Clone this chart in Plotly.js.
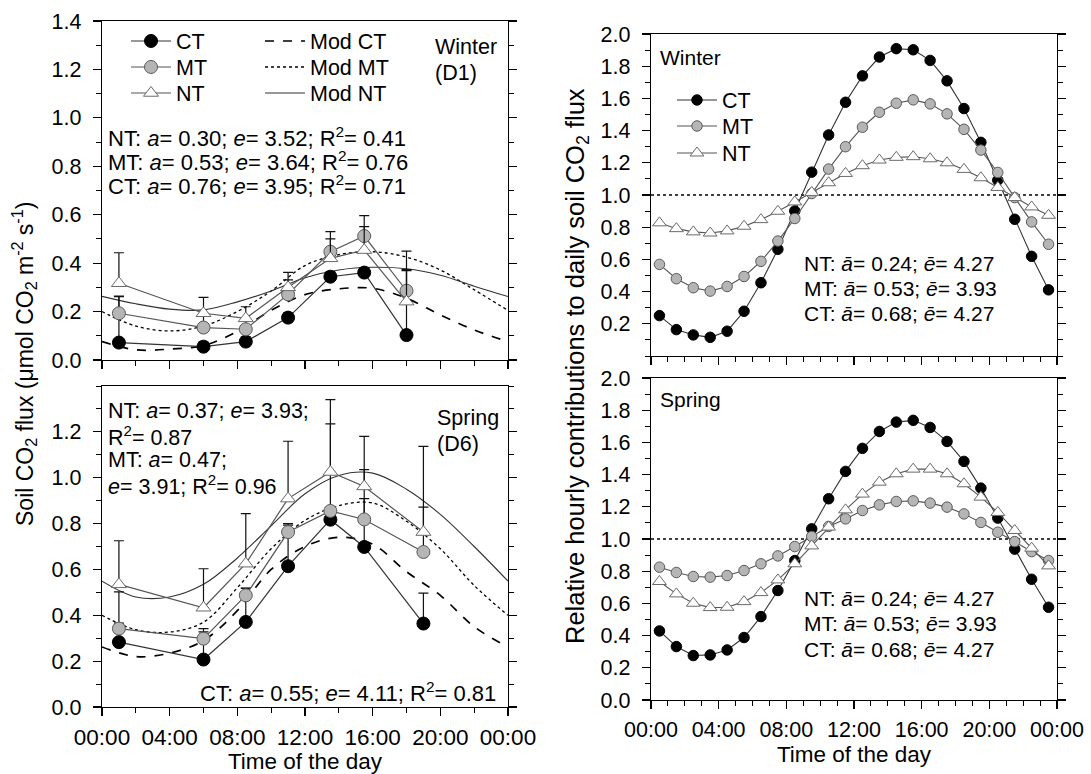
<!DOCTYPE html>
<html>
<head>
<meta charset="utf-8">
<script src="https://cdn.plot.ly/plotly-3.0.1.min.js"></script>
<style>html,body{margin:0;padding:0;background:#fff;}#chart{width:1091px;height:774px;}</style>
</head>
<body>
<div id="chart"></div>
<script>
// ---------- DATA ----------
const tickHours = [0, 4, 8, 12, 16, 20, 24];
const tickLabels = ["00:00", "04:00", "08:00", "12:00", "16:00", "20:00", "00:00"];
const leftTickVals = [0, 0.2, 0.4, 0.6, 0.8, 1.0, 1.2, 1.4];
const leftTickVals2 = [0, 0.2, 0.4, 0.6, 0.8, 1.0, 1.2];
const rightTickVals = [0.2, 0.4, 0.6, 0.8, 1.0, 1.2, 1.4, 1.6, 1.8, 2.0];
const rightTickVals2 = [0, 0.2, 0.4, 0.6, 0.8, 1.0, 1.2, 1.4, 1.6, 1.8, 2.0];

// field measurements (left panels)
const winterHours = [1, 6, 8.5, 11, 13.5, 15.5, 18];
const winterCT = [0.072, 0.055, 0.076, 0.175, 0.344, 0.361, 0.103];
const winterMT = [0.193, 0.134, 0.127, 0.271, 0.447, 0.512, 0.286];
const winterNT = [0.317, 0.193, 0.172, 0.300, 0.420, 0.454, 0.241];
const winterCTErr = [0.19, 0.02, 0.02, 0.02, 0.02, 0.02, 0.27];
const winterMTErr = [0.071, 0.05, 0.04, 0.06, 0.083, 0.084, 0.164];
const winterNTErr = [0.126, 0.066, 0.048, 0.062, 0.08, 0.097, 0.128];

const springHours = [1, 6, 8.5, 11, 13.5, 15.5, 19];
const springCT = [0.283, 0.207, 0.371, 0.614, 0.817, 0.698, 0.364];
const springMT = [0.342, 0.298, 0.487, 0.763, 0.855, 0.818, 0.676];
const springNT = [0.535, 0.433, 0.625, 0.909, 1.025, 0.962, 0.763];
const springCTErr = [0.083, 0.135, 0.148, 0.186, 0.02, 0.211, 0.133];
const springMTErr = [0.16, 0.03, 0.03, 0.03, 0.38, 0.217, 0.196];
const springNTErr = [0.19, 0.17, 0.218, 0.25, 0.316, 0.218, 0.374];

// model curves (left panels)
const modelHours = [0, 2, 4, 6, 8, 10, 12, 14, 16, 18, 20, 22, 24];
const winterModCT = [0.076, 0.042, 0.045, 0.060, 0.118, 0.205, 0.270, 0.294, 0.296, 0.255, 0.186, 0.124, 0.076];
const winterModMT = [0.200, 0.140, 0.120, 0.140, 0.200, 0.285, 0.390, 0.435, 0.447, 0.425, 0.372, 0.290, 0.205];
const winterModNT = [0.263, 0.232, 0.210, 0.207, 0.240, 0.285, 0.340, 0.372, 0.383, 0.377, 0.350, 0.305, 0.262];
const springModCT = [0.262, 0.220, 0.235, 0.290, 0.420, 0.600, 0.700, 0.740, 0.710, 0.590, 0.487, 0.350, 0.262];
const springModMT = [0.400, 0.337, 0.327, 0.370, 0.520, 0.690, 0.814, 0.878, 0.890, 0.810, 0.690, 0.530, 0.400];
const springModNT = [0.549, 0.480, 0.480, 0.535, 0.650, 0.790, 0.930, 1.010, 1.020, 0.950, 0.840, 0.700, 0.549];

// relative hourly contributions (right panels)
const hourMid = [0.5, 1.5, 2.5, 3.5, 4.5, 5.5, 6.5, 7.5, 8.5, 9.5, 10.5, 11.5,
                 12.5, 13.5, 14.5, 15.5, 16.5, 17.5, 18.5, 19.5, 20.5, 21.5, 22.5, 23.5];
const relWinterCT = [0.251, 0.164, 0.131, 0.116, 0.154, 0.278, 0.455, 0.663, 0.901, 1.142, 1.373, 1.576,
                     1.740, 1.857, 1.909, 1.902, 1.836, 1.709, 1.537, 1.327, 1.092, 0.849, 0.619, 0.411];
const relWinterMT = [0.569, 0.480, 0.424, 0.403, 0.432, 0.494, 0.588, 0.714, 0.854, 1.009, 1.161, 1.300,
                     1.421, 1.514, 1.570, 1.591, 1.566, 1.504, 1.408, 1.279, 1.140, 0.984, 0.833, 0.694];
const relWinterNT = [0.827, 0.791, 0.771, 0.764, 0.777, 0.806, 0.847, 0.899, 0.957, 1.016, 1.076, 1.134,
                     1.182, 1.217, 1.234, 1.238, 1.225, 1.200, 1.159, 1.107, 1.047, 0.984, 0.926, 0.874];
const relSpringCT = [0.429, 0.332, 0.276, 0.280, 0.311, 0.388, 0.518, 0.680, 0.866, 1.063, 1.250, 1.420,
                     1.563, 1.668, 1.726, 1.737, 1.693, 1.606, 1.482, 1.316, 1.130, 0.937, 0.750, 0.576];
const relSpringMT = [0.825, 0.792, 0.767, 0.763, 0.773, 0.804, 0.846, 0.895, 0.953, 1.016, 1.078, 1.125,
                     1.177, 1.212, 1.233, 1.237, 1.223, 1.198, 1.156, 1.103, 1.042, 0.984, 0.922, 0.866];
const relSpringNT = [0.736, 0.659, 0.601, 0.574, 0.576, 0.611, 0.667, 0.746, 0.846, 0.957, 1.074, 1.181,
                     1.279, 1.353, 1.405, 1.434, 1.434, 1.405, 1.343, 1.260, 1.165, 1.053, 0.943, 0.833];
const referenceLevel = 1.0;

// ---------- STYLE ----------
const FONT = 'Liberation Sans, Arial, sans-serif';
const W = 1091, H = 774;
const px = v => v / W;
const py = v => 1 - v / H;

const styles = {
  CT: {symbol: 'circle', color: '#000000', line: {color: '#000000', width: 1}},
  MT: {symbol: 'circle', color: '#b5b5b5', line: {color: '#5a5a5a', width: 1}},
  NT: {symbol: 'triangle-up', color: '#ffffff', line: {color: '#6a6a6a', width: 1}}
};
const connColor = {CT: '#333333', MT: '#555555', NT: '#555555'};

function fieldTrace(name, x, y, err, xa, ya, leg) {
  const s = styles[name];
  return {
    type: 'scatter', mode: 'lines+markers', name: name, x: x, y: y,
    xaxis: xa, yaxis: ya, legend: leg || 'legend', showlegend: !!leg,
    line: {color: connColor[name], width: 1.2},
    marker: {symbol: s.symbol, color: s.color, size: 13, line: s.line},
    error_y: {type: 'data', symmetric: false, array: err, arrayminus: err.map(() => 0),
              color: '#111', thickness: 1.2, width: 5},
    cliponaxis: false
  };
}
function modelTrace(name, y, xa, ya, dash, width, color, leg) {
  return {
    type: 'scatter', mode: 'lines', name: name, x: modelHours, y: y,
    xaxis: xa, yaxis: ya, legend: leg || 'legend', showlegend: !!leg,
    line: {color: color, width: width, dash: dash, shape: 'spline', smoothing: 1}
  };
}
function relTrace(name, y, xa, ya, leg) {
  const s = styles[name];
  return {
    type: 'scatter', mode: 'lines+markers', name: name, x: hourMid, y: y,
    xaxis: xa, yaxis: ya, legend: leg || 'legend', showlegend: !!leg,
    line: {color: connColor[name], width: 1.1},
    marker: {symbol: s.symbol, color: s.color, size: name === 'NT' ? 12 : 10.5, line: s.line},
    cliponaxis: false
  };
}

const data = [
  modelTrace('Mod CT', winterModCT, 'x', 'y', 'dash', 1.7, '#000', 'legend4'),
  modelTrace('Mod MT', winterModMT, 'x', 'y', 'dot', 1.3, '#000', 'legend5'),
  modelTrace('Mod NT', winterModNT, 'x', 'y', 'solid', 1.1, '#333', 'legend6'),
  fieldTrace('CT', winterHours, winterCT, winterCTErr, 'x', 'y', 'legend'),
  fieldTrace('MT', winterHours, winterMT, winterMTErr, 'x', 'y', 'legend2'),
  fieldTrace('NT', winterHours, winterNT, winterNTErr, 'x', 'y', 'legend3'),

  modelTrace('Mod CT', springModCT, 'x2', 'y2', 'dash', 1.7, '#000'),
  modelTrace('Mod MT', springModMT, 'x2', 'y2', 'dot', 1.3, '#000'),
  modelTrace('Mod NT', springModNT, 'x2', 'y2', 'solid', 1.1, '#333'),
  fieldTrace('CT', springHours, springCT, springCTErr, 'x2', 'y2'),
  fieldTrace('MT', springHours, springMT, springMTErr, 'x2', 'y2'),
  fieldTrace('NT', springHours, springNT, springNTErr, 'x2', 'y2'),

  relTrace('CT', relWinterCT, 'x3', 'y3', 'legend7'),
  relTrace('MT', relWinterMT, 'x3', 'y3', 'legend8'),
  relTrace('NT', relWinterNT, 'x3', 'y3', 'legend9'),
  relTrace('CT', relSpringCT, 'x4', 'y4'),
  relTrace('MT', relSpringMT, 'x4', 'y4'),
  relTrace('NT', relSpringNT, 'x4', 'y4')
];

function xAxis(domain, anchor, minorStep, labels, title, fsize) {
  const ax = {
    domain: domain, anchor: anchor, range: [0, 24], tickmode: 'array',
    tickvals: tickHours, ticktext: tickLabels, showticklabels: labels,
    ticks: 'outside', ticklen: 8, tickwidth: 1.2, tickcolor: '#000',
    minor: {tick0: 0, dtick: minorStep, ticks: 'outside', ticklen: 5, tickwidth: 1, tickcolor: '#000'},
    showline: true, linecolor: '#000', linewidth: 1.3, mirror: true,
    showgrid: false, zeroline: false, fixedrange: true, ticklabelstandoff: 2,
    tickfont: {family: FONT, size: fsize, color: '#000'}
  };
  if (title) ax.title = {text: title, font: {family: FONT, size: 22.5, color: '#000'}, standoff: 1};
  return ax;
}
function yAxis(domain, anchor, range, vals, major) {
  return {
    domain: domain, anchor: anchor, range: range, tickmode: 'array',
    tickvals: vals, ticktext: vals.map(v => v.toFixed(1)),
    ticks: 'outside', ticklen: major, tickwidth: 1.2, tickcolor: '#000',
    minor: {tick0: 0, dtick: 0.1, ticks: 'outside', ticklen: 5, tickwidth: 1, tickcolor: '#000'},
    showline: true, linecolor: '#000', linewidth: 1.3, mirror: 'ticks',
    showgrid: false, zeroline: false, fixedrange: true, ticklabelstandoff: 7,
    tickfont: {family: FONT, size: 21.5, color: '#000'}
  };
}

const LX = [px(102), px(508)], RX = [px(651), px(1057)];
const ann = (text, x, y, xanchor, size) => ({
  text: text, xref: 'paper', yref: 'paper', x: px(x), y: py(y),
  xanchor: xanchor || 'left', yanchor: 'middle', showarrow: false, align: 'left',
  font: {family: FONT, size: size || 21, color: '#000'}
});

const annotations = [
  ann('Winter', 433, 47, 'left', 21.5), ann('(D1)', 433, 73, 'left', 21.5),
  ann('NT: <i>a</i>= 0.30; <i>e</i>= 3.52; R<sup>2</sup>= 0.41', 106, 137, 'left', 22),
  ann('MT: <i>a</i>= 0.53; <i>e</i>= 3.64; R<sup>2</sup>= 0.76', 106, 161, 'left', 22),
  ann('CT: <i>a</i>= 0.76; <i>e</i>= 3.95; R<sup>2</sup>= 0.71', 106, 185, 'left', 22),

  ann('NT: <i>a</i>= 0.37; <i>e</i>= 3.93;', 106, 411, 'left', 21.5),
  ann('R<sup>2</sup>= 0.87', 106, 436, 'left', 21.5),
  ann('MT: <i>a</i>= 0.47;', 106, 460, 'left', 21.5),
  ann('<i>e</i>= 3.91; R<sup>2</sup>= 0.96', 106, 485, 'left', 21.5),
  ann('Spring', 435, 418, 'left', 21.5), ann('(D6)', 435, 444, 'left', 21.5),
  ann('CT: <i>a</i>= 0.55; <i>e</i>= 4.11; R<sup>2</sup>= 0.81', 498, 692, 'right', 22),

  ann('Winter', 658, 57),
  ann('NT: <i>ā</i>= 0.24; <i>ē</i>= 4.27', 802, 263),
  ann('MT: <i>ā</i>= 0.53; <i>ē</i>= 3.93', 802, 288),
  ann('CT: <i>ā</i>= 0.68; <i>ē</i>= 4.27', 802, 313),
  ann('Spring', 658, 400),
  ann('NT: <i>ā</i>= 0.24; <i>ē</i>= 4.27', 802, 598),
  ann('MT: <i>ā</i>= 0.53; <i>ē</i>= 3.93', 802, 623),
  ann('CT: <i>ā</i>= 0.68; <i>ē</i>= 4.27', 802, 649),

  Object.assign(ann('Soil CO<sub>2</sub> flux (μmol CO<sub>2</sub> m<sup>-2</sup> s<sup>-1</sup>)', 24, 364, 'center', 23),
    {textangle: -90}),
  Object.assign(ann('Relative hourly contributions to daily soil CO<sub>2</sub> flux', 577, 366, 'center', 25.5),
    {textangle: -90})
];

const refLine = (xa, ya) => ({
  type: 'line', xref: xa + ' domain', yref: ya, x0: 0, x1: 1, y0: referenceLevel, y1: referenceLevel,
  line: {color: '#000', width: 1.3, dash: 'dot'}, layer: 'below'
});

const legendBase = {
  bgcolor: 'rgba(0,0,0,0)', borderwidth: 0, font: {family: FONT, size: 21.5, color: '#000'},
  xanchor: 'left', yanchor: 'middle', traceorder: 'normal', tracegroupgap: 0, itemwidth: 40,
  itemclick: false, itemdoubleclick: false
};
const leg = (x, y) => Object.assign({}, legendBase, {x: px(x), y: py(y)});

const layout = {
  width: W, height: H, margin: {l: 0, r: 0, t: 0, b: 0},
  paper_bgcolor: '#fff', plot_bgcolor: '#fff', showlegend: true,
  font: {family: FONT, size: 21, color: '#000'},
  xaxis: xAxis(LX, 'y', 2, false, null, 22.5),
  yaxis: yAxis([py(360), py(21)], 'x', [0, 1.4], leftTickVals, 8),
  xaxis2: xAxis(LX, 'y2', 2, true, 'Time of the day', 22.5),
  yaxis2: yAxis([py(707), py(386)], 'x2', [0, 1.4], leftTickVals2, 8),
  xaxis3: xAxis(RX, 'y3', 1, false, null, 21.5),
  yaxis3: yAxis([py(356), py(34)], 'x3', [0, 2.0], rightTickVals, 8),
  xaxis4: xAxis(RX, 'y4', 1, true, 'Time of the day', 21.5),
  yaxis4: yAxis([py(700), py(378)], 'x4', [0, 2.0], rightTickVals2, 8),
  legend: leg(126, 41), legend2: leg(126, 67), legend3: leg(126, 93),
  legend4: leg(260, 41), legend5: leg(260, 67), legend6: leg(260, 93),
  legend7: leg(672, 100), legend8: leg(672, 126), legend9: leg(672, 153),
  annotations: annotations,
  shapes: [refLine('x3', 'y3'), refLine('x4', 'y4')]
};

Plotly.newPlot('chart', data, layout, {staticPlot: true, displayModeBar: false});
</script>
</body>
</html>
